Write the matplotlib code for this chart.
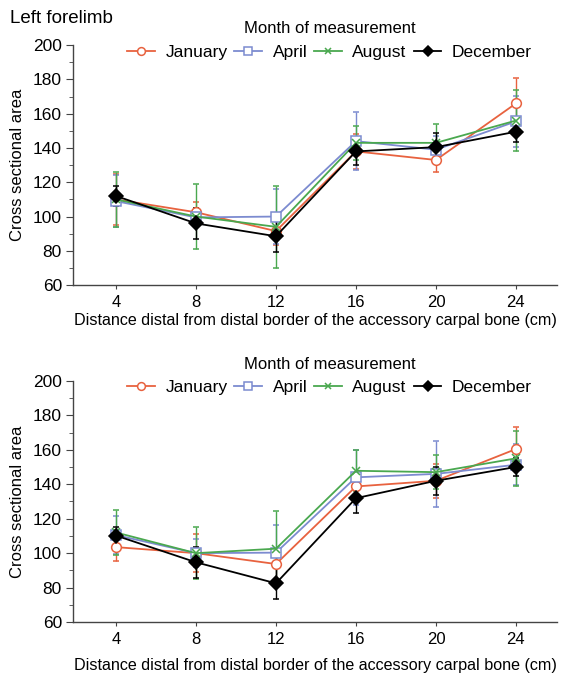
import matplotlib
matplotlib.use("Agg")
import matplotlib.pyplot as plt
from matplotlib.ticker import MultipleLocator

plt.rcParams['font.family'] = ['Liberation Sans', 'DejaVu Sans']

distancia = [4, 8, 12, 16, 20, 24]
meses = ["January", "April", "August", "December"]

# painel de cima (Left forelimb)
topo_jan = [110, 102.5, 91.5, 138, 133, 166]
topo_abr = [109, 99.5, 100, 144, 139, 155.5]
topo_ago = [110, 100, 94, 143, 143, 156]
topo_dez = [112, 96, 88.5, 138, 140.5, 149.5]
topo_jan_dp = [15, 6, 8, 10, 7, 15]
topo_abr_dp = [15, 5, 16, 17, 8, 15]
topo_ago_dp = [16, 19, 24, 10, 11, 18]
topo_dez_dp = [6, 9, 9, 8, 8, 6]

# painel de baixo
base_jan = [103.5, 100, 93.7, 138.7, 142, 160.4]
base_abr = [110.5, 100, 100.3, 144, 146, 151.3]
base_ago = [112, 100, 102.6, 147.8, 147, 155]
base_dez = [110.2, 94.7, 82.5, 131.9, 142, 150]
base_jan_dp = [8, 11, 9, 8, 10, 13]
base_abr_dp = [11, 8, 16, 16, 19, 12]
base_ago_dp = [13, 15, 22, 12, 10, 16]
base_dez_dp = [5, 9, 9, 8.5, 8, 5.5]

cores = ["#e8623f", "#7c8bd0", "#4aa84f", "#000000"]
marcadores = ["o", "s", "x", "D"]


def desenha(ax, medias, erros, pad_x):
    linhas = []
    for nome, y, e, cor, m in zip(meses, medias, erros, cores, marcadores):
        fill = cor if m in ("D", "x") else "white"
        cont = ax.errorbar(distancia, y, yerr=e, color=cor, marker=m,
                           markersize=7 if m != "x" else 6,
                           markerfacecolor=fill, markeredgecolor=cor, markeredgewidth=1.1,
                           linewidth=1.3, elinewidth=1.0, capsize=2.5, capthick=1.0, label=nome)
        linhas.append(cont[0])
    ax.set_xlim(1.85, 26.05)
    ax.set_ylim(60, 200)
    ax.set_xticks(distancia)
    ax.yaxis.set_major_locator(MultipleLocator(20))
    ax.yaxis.set_minor_locator(MultipleLocator(10))
    ax.spines["top"].set_visible(False)
    ax.spines["right"].set_visible(False)
    for s in ["left", "bottom"]:
        ax.spines[s].set_color("#444444")
        ax.spines[s].set_linewidth(1.0)
    ax.tick_params(axis="y", which="major", length=5, labelsize=12.5, color="#444444", pad=3)
    ax.tick_params(axis="y", which="minor", length=3, color="#444444")
    ax.tick_params(axis="x", length=3, labelsize=12, color="#444444", pad=4)
    ax.set_ylabel("Cross sectional area", fontsize=12, labelpad=6)
    ax.set_xlabel("Distance distal from distal border of the accessory carpal bone (cm)",
                  fontsize=11.6, labelpad=pad_x)
    ax.legend(linhas, meses, loc="center", bbox_to_anchor=(0.53, 1.02), ncol=4, frameon=False,
              title="Month of measurement", title_fontsize=12, fontsize=12.5,
              markerscale=0.8, handlelength=1.6, handletextpad=0.6, columnspacing=0.4)


fig = plt.figure(figsize=(5.68, 6.74), dpi=100)
ax1 = fig.add_axes([0.1285, 0.577, 0.852, 0.356])
ax2 = fig.add_axes([0.1285, 0.077, 0.852, 0.358])

desenha(ax1, [topo_jan, topo_abr, topo_ago, topo_dez],
        [topo_jan_dp, topo_abr_dp, topo_ago_dp, topo_dez_dp], 2)
desenha(ax2, [base_jan, base_abr, base_ago, base_dez],
        [base_jan_dp, base_abr_dp, base_ago_dp, base_dez_dp], 8)

fig.text(0.018, 0.972, "Left forelimb", fontsize=13.5, va="center", ha="left")

fig.savefig("out.png", dpi=100)
